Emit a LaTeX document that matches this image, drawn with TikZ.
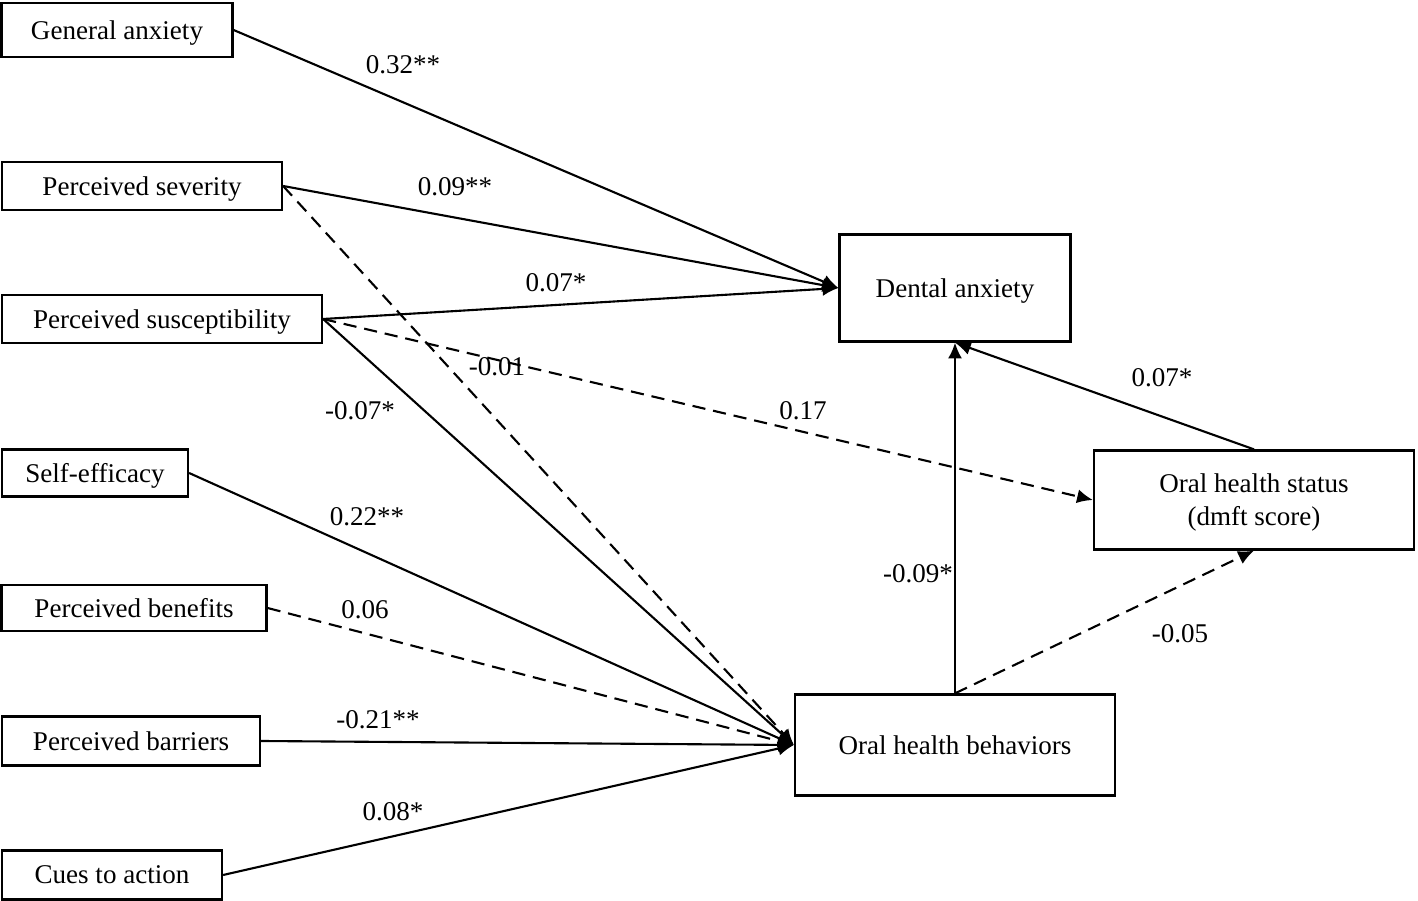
\documentclass[tikz,border=0pt]{standalone}
\usepackage{fontspec}
\setmainfont{Liberation Serif}
\usetikzlibrary{positioning,arrows.meta}
\tikzset{>={Latex[length=9pt,width=8pt]}}

\begin{document}
\begin{tikzpicture}[x=0.02cm, y=-0.02cm, shorten >=0pt,
    align=center, font=\fontsize{15.4}{18.8}\selectfont,
    var/.style={rectangle, draw=black, line width=1.3pt, fill=white, inner sep=0pt, text depth=-1pt},
    link/.style={draw, line width=1.2pt, ->},
    nolink/.style={link, dash pattern=on 7.5pt off 4.5pt},
    coef/.style={inner sep=1pt}]
    \useasboundingbox (0,0) rectangle (1418,901);

    % predictors
    \node [var, minimum width=4.62cm, minimum height=1.08cm] (ganx) at (117,30) {General anxiety};
    \node [var, minimum width=5.6cm, minimum height=0.96cm] (psev) at (142,186) {Perceived severity};
    \node [var, minimum width=6.4cm, minimum height=0.96cm] (psus) at (162,319) {Perceived susceptibility};
    \node [var, minimum width=3.72cm, minimum height=0.94cm] (seff) at (95,473) {Self-efficacy};
    \node [var, minimum width=5.3cm, minimum height=0.92cm] (pben) at (134,608) {Perceived benefits};
    \node [var, minimum width=5.16cm, minimum height=0.98cm] (pbar) at (131,741) {Perceived barriers};
    \node [var, minimum width=4.4cm, minimum height=0.98cm] (cues) at (112,875) {Cues to action};

    % outcomes
    \node [var, minimum width=4.62cm, minimum height=2.14cm] (danx) at (955,288) {Dental anxiety};
    \node [var, minimum width=6.4cm, minimum height=1.98cm] (ohs) at (1254,500) {Oral health status\\(dmft score)};
    \node [var, minimum width=6.4cm, minimum height=2.02cm] (ohb) at (955,745) {Oral health behaviors};

    \path (ganx.east) edge [link] (danx.west);
    \path (psev.east) edge [link] (danx.west);
    \path (psus.east) edge [link] (danx.west);

    \path (psev.east) edge [nolink] (ohb.west);
    \path (psus.east) edge [link] (ohb.west);
    \path (psus.east) edge [nolink] (ohs.west);
    \path (seff.east) edge [link] (ohb.west);
    \path (pben.east) edge [nolink] (ohb.west);
    \path (pbar.east) edge [link] (ohb.west);
    \path (cues.east) edge [link] (ohb.west);

    \path (ohb.north) edge [link] (danx.south);
    \path (ohb.north) edge [nolink] (ohs.south);
    \path (ohs.north) edge [link] (danx.south);

    % path coefficients
    \node [coef] (c1) at (403,65) {0.32**};
    \node [coef] (c2) at (455,187) {0.09**};
    \node [coef] (c3) at (556,283) {0.07*};
    \node [coef] (c4) at (497,367) {-0.01};
    \node [coef] (c5) at (360,411) {-0.07*};
    \node [coef] (c6) at (803,411) {0.17};
    \node [coef] (c7) at (367,517) {0.22**};
    \node [coef] (c8) at (365,610) {0.06};
    \node [coef] (c9) at (378,720) {-0.21**};
    \node [coef] (c10) at (393,812) {0.08*};
    \node [coef] (c11) at (918,574) {-0.09*};
    \node [coef] (c12) at (1180,634) {-0.05};
    \node [coef] (c13) at (1162,378) {0.07*};

\end{tikzpicture}
\end{document}
